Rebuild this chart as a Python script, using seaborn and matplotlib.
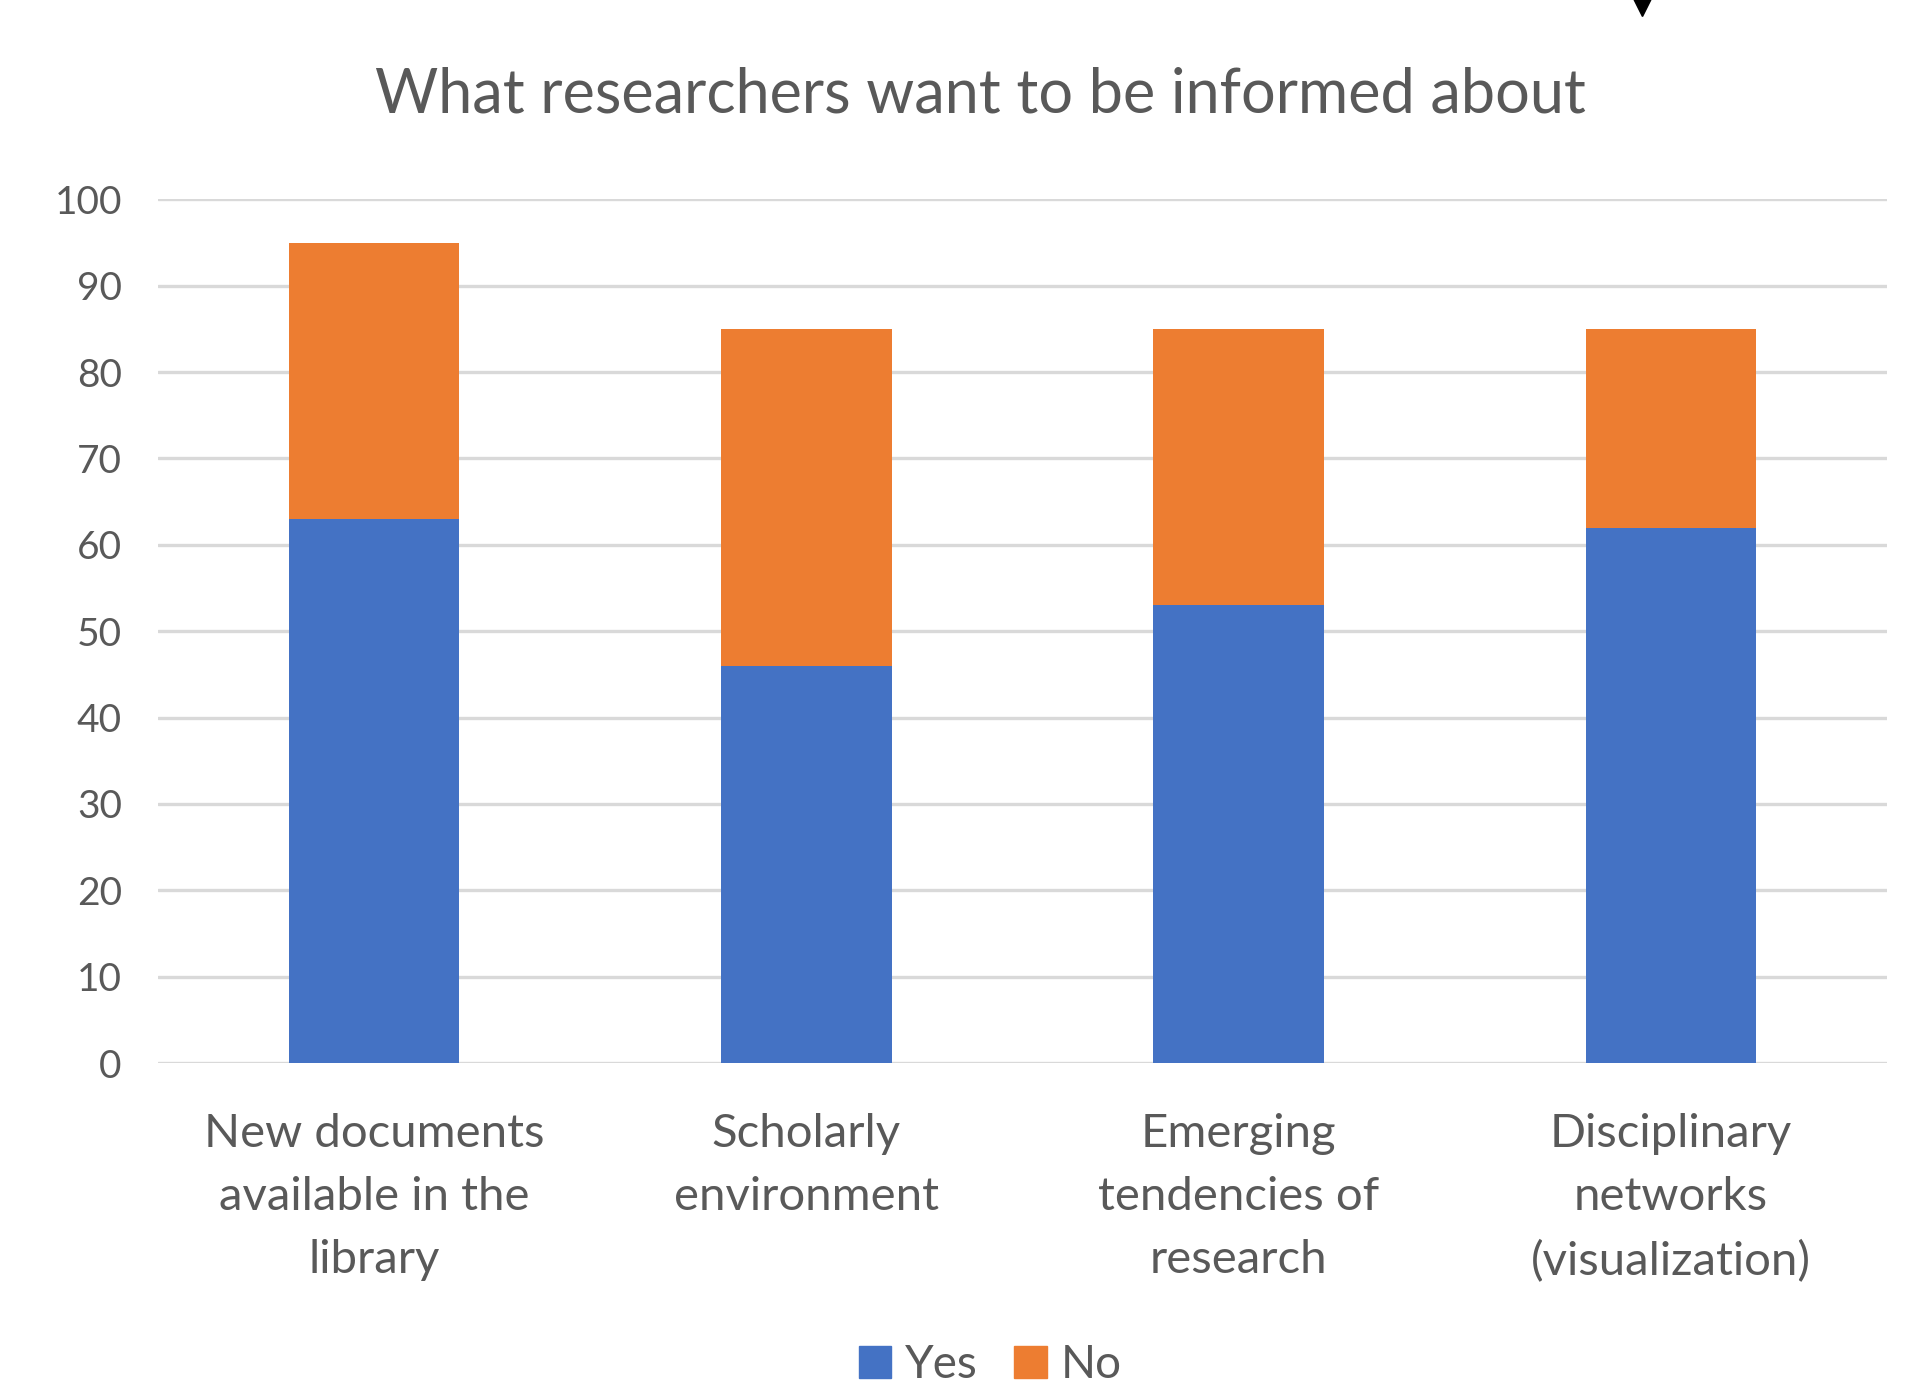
import matplotlib
matplotlib.use("Agg")
import matplotlib.pyplot as plt
import matplotlib.patches as mpatches
from matplotlib.lines import Line2D
import pandas as pd
import seaborn as sns

# values
categories = [
    "New documents\navailable in the\nlibrary",
    "Scholarly\nenvironment",
    "Emerging\ntendencies of\nresearch",
    "Disciplinary\nnetworks\n(visualization)",
]
yes_values = [63, 46, 53, 62]
no_values = [32, 39, 32, 23]
y_ticks = [0, 10, 20, 30, 40, 50, 60, 70, 80, 90, 100]

blue = "#4472c4"
orange = "#ed7d31"
grey_text = "#595959"
grid_grey = "#d9d9d9"

df = pd.DataFrame({"Category": categories, "Yes": yes_values, "No": no_values})
df["Total"] = df["Yes"] + df["No"]

sns.set_style("white")
plt.rcParams["font.family"] = ["Lato", "DejaVu Sans"]

fig = plt.figure(figsize=(19.08, 13.94), dpi=100)
ax = fig.add_axes([0.0828, 0.2374, 0.9062, 0.6196])

# stacked bars: draw the total in orange, then the Yes part over it in blue
sns.barplot(data=df, x="Category", y="Total", color=orange, width=0.395,
            saturation=1, linewidth=0, ax=ax, zorder=3)
sns.barplot(data=df, x="Category", y="Yes", color=blue, width=0.395,
            saturation=1, linewidth=0, ax=ax, zorder=4)

ax.set_ylim(0, 100)
ax.set_xlim(-0.5, len(categories) - 0.5)
ax.set_yticks(y_ticks)
ax.grid(axis="y", color=grid_grey, linewidth=2.4)
ax.set_axisbelow(True)
for side in ["top", "right", "left", "bottom"]:
    ax.spines[side].set_visible(False)
ax.tick_params(axis="both", length=0, colors=grey_text)
ax.tick_params(axis="y", labelsize=28, pad=26)
ax.tick_params(axis="x", labelsize=34, pad=36)
for lbl in ax.get_xticklabels():
    lbl.set_linespacing(1.62)
ax.set(xlabel=None, ylabel=None)

fig.text(0.514, 0.932, "What researchers want to be informed about",
         ha="center", va="center", fontsize=44, color=grey_text)

handles = [mpatches.Patch(color=blue, label="Yes"),
           mpatches.Patch(color=orange, label="No")]
fig.legend(handles=handles, loc="center", bbox_to_anchor=(0.519, 0.021),
           ncol=2, frameon=False, fontsize=33, labelcolor=grey_text,
           handlelength=0.7, handleheight=0.7, handletextpad=0.3,
           columnspacing=0.8)

# small black marker clipped at the top edge
fig.add_artist(Line2D([0.8605], [0.998], marker="v", markersize=19,
                      color="black", linestyle="none",
                      transform=fig.transFigure))

fig.savefig("out.png", dpi=100, facecolor="white")
